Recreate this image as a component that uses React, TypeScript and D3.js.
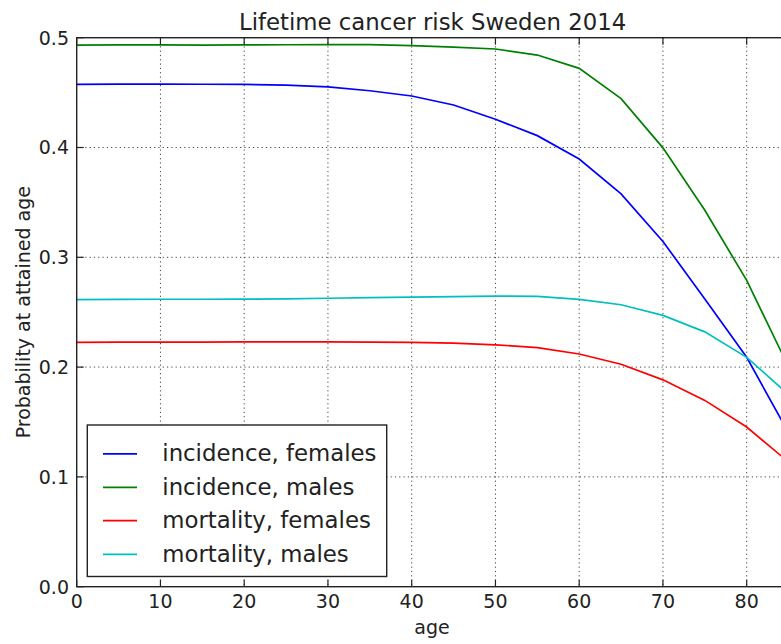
import React from "react";
import * as d3 from "d3";

const ages = [0, 5, 10, 15, 20, 25, 30, 35, 40, 45, 50, 55, 60, 65, 70, 75, 80, 85];
const incidenceFemales = [0.4575, 0.4577, 0.4577, 0.4576, 0.4575, 0.4568, 0.4553, 0.4517, 0.4469, 0.4387, 0.4257, 0.4108, 0.3895, 0.3578, 0.3144, 0.262, 0.2089, 0.14];
const incidenceMales = [0.4933, 0.4935, 0.4934, 0.4933, 0.4934, 0.4936, 0.4937, 0.4937, 0.4927, 0.4915, 0.4897, 0.4842, 0.4721, 0.4445, 0.3997, 0.3428, 0.279, 0.2];
const mortalityFemales = [0.2226, 0.2228, 0.2228, 0.2228, 0.2229, 0.2229, 0.2229, 0.2228, 0.2226, 0.2218, 0.2203, 0.2178, 0.2119, 0.2026, 0.1884, 0.1697, 0.1454, 0.1135];
const mortalityMales = [0.2614, 0.2617, 0.2618, 0.2618, 0.2619, 0.2622, 0.2627, 0.2633, 0.2638, 0.2641, 0.2647, 0.2644, 0.2617, 0.2568, 0.2471, 0.2321, 0.2089, 0.175];

const seriesNames = ["incidence, females", "incidence, males", "mortality, females", "mortality, males"];
const seriesColors = ["#0000ff", "#008000", "#ff0000", "#00bfbf"];
const seriesValues = [incidenceFemales, incidenceMales, mortalityFemales, mortalityMales];

const xTicks = [0, 10, 20, 30, 40, 50, 60, 70, 80];
const yTicks = [0.0, 0.1, 0.2, 0.3, 0.4, 0.5];

const W = 781;
const H = 644;
const left = 76.7;
const top = 37.7;
const bottom = 586.7;
const right = 76.7 + 85 * 8.375;

const FONT = "DejaVu Sans, sans-serif";

export default function App() {
  const x = d3.scaleLinear().domain([0, 85]).range([left, right]);
  const y = d3.scaleLinear().domain([0, 0.5]).range([bottom, top]);
  const line = d3
    .line<number>()
    .x((_, i) => x(ages[i]))
    .y((d) => y(d));

  const legendX = 87.3;
  const legendY = 425;
  const legendW = 299.4;
  const legendH = 151.5;
  const rowY = [453.8, 487.3, 520.7, 554.3];

  return (
    <div style={{ position: "fixed", left: 0, top: 0 }}>
      <svg width={W} height={H} style={{ display: "block", background: "#fff" }}>
        <defs>
          <clipPath id="plot">
            <rect x={left} y={top} width={right - left} height={bottom - top} />
          </clipPath>
        </defs>
        {/* grid */}
        <g stroke="#444" strokeWidth={1} strokeDasharray="1.2,3.1">
          {xTicks.filter((t) => t > 0).map((t) => (
            <line key={"gx" + t} x1={x(t)} x2={x(t)} y1={top} y2={bottom} />
          ))}
          {yTicks.filter((t) => t > 0 && t < 0.5).map((t) => (
            <line key={"gy" + t} x1={left} x2={right} y1={y(t)} y2={y(t)} />
          ))}
        </g>
        {/* lines */}
        <g clipPath="url(#plot)" fill="none" strokeWidth={1.7}>
          {seriesValues.map((vals, i) => (
            <path key={seriesNames[i]} d={line(vals) || ""} stroke={seriesColors[i]} />
          ))}
        </g>
        {/* ticks */}
        <g stroke="#222" strokeWidth={1.2}>
          {xTicks.map((t) => (
            <g key={"tx" + t}>
              <line x1={x(t)} x2={x(t)} y1={bottom} y2={bottom - 7} />
              <line x1={x(t)} x2={x(t)} y1={top} y2={top + 7} />
            </g>
          ))}
          {yTicks.map((t) => (
            <line key={"ty" + t} x1={left} x2={left + 7} y1={y(t)} y2={y(t)} />
          ))}
        </g>
        {/* frame */}
        <rect x={left} y={top} width={right - left} height={bottom - top} fill="none" stroke="#222" strokeWidth={1.4} />
        {/* tick labels */}
        <g fontFamily={FONT} fontSize={19} fill="#222">
          {xTicks.map((t) => (
            <text key={"lx" + t} x={x(t)} y={607.5} textAnchor="middle">
              {String(t)}
            </text>
          ))}
          {yTicks.map((t) => (
            <text key={"ly" + t} x={69} y={y(t) + 6.9} textAnchor="end">
              {t.toFixed(1)}
            </text>
          ))}
        </g>
        {/* axis labels */}
        <text x={432} y={634} textAnchor="middle" fontFamily={FONT} fontSize={19} fill="#222">
          age
        </text>
        <text
          transform={`translate(30, ${(top + bottom) / 2}) rotate(-90)`}
          textAnchor="middle"
          fontFamily={FONT}
          fontSize={19}
          fill="#222"
        >
          Probability at attained age
        </text>
        {/* title */}
        <text x={(left + right) / 2} y={30} textAnchor="middle" fontFamily={FONT} fontSize={22.8} fill="#222">
          Lifetime cancer risk Sweden 2014
        </text>
        {/* legend */}
        <rect x={legendX} y={legendY} width={legendW} height={legendH} fill="#fff" stroke="#222" strokeWidth={1.4} />
        {seriesNames.map((name, i) => (
          <g key={"lg" + name}>
            <line x1={103} x2={137} y1={rowY[i]} y2={rowY[i]} stroke={seriesColors[i]} strokeWidth={1.7} />
            <text x={162.3} y={rowY[i] + 7.6} fontFamily={FONT} fontSize={22.8} fill="#222">
              {name}
            </text>
          </g>
        ))}
      </svg>
    </div>
  );
}
